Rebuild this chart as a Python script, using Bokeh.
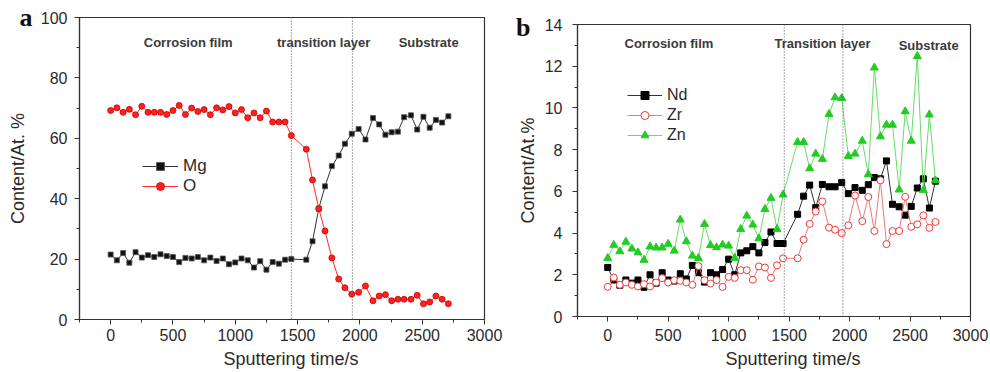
from bokeh.plotting import figure
from bokeh.models import (Span, Label, Legend, LegendItem, FixedTicker, Range1d, Spacer,
                          LinearAxis, Title)
from bokeh.layouts import row, column
from bokeh.embed import file_html
from bokeh.resources import INLINE

# ---------------- data ----------------
time_a = [0, 50, 100, 150, 200, 250, 300, 350, 400, 450, 500, 550, 600, 650, 700,
          750, 800, 850, 900, 950, 1000, 1050, 1100, 1150, 1200, 1250, 1300, 1350, 1400, 1450,
          1570, 1620, 1670, 1720, 1775, 1830, 1880, 1935, 1990, 2045, 2105, 2155, 2205,
          2255, 2305, 2355, 2410, 2460, 2510, 2560, 2610, 2660, 2710]
mg = [21.5, 19.6, 22.0, 18.8, 22.3, 20.5, 21.3, 20.7, 21.6, 21.0, 20.7, 19.0, 20.4, 20.2, 20.7,
      19.6, 20.5, 19.4, 20.2, 18.3, 18.9, 20.2, 19.6, 17.2, 19.3, 16.5, 19.0, 18.5, 19.8, 20.0,
      19.8, 25.9, 36.7, 44.1, 50.8, 54.3, 58.2, 61.5, 63.1, 59.6, 66.7, 64.6, 61.2,
      62.0, 62.2, 67.0, 67.6, 62.9, 67.1, 63.5, 66.1, 65.2, 67.3]
oxygen = [69.2, 70.1, 68.6, 69.6, 67.8, 70.6, 68.6, 68.6, 68.6, 67.9, 69.2, 70.9, 67.9, 70.0, 68.9,
          69.5, 67.8, 70.1, 69.4, 70.5, 68.4, 69.5, 66.8, 68.4, 66.8, 69.0, 65.4, 65.4, 65.4, 60.9,
          56.4, 46.2, 36.7, 29.3, 20.4, 13.4, 10.5, 8.4, 9.0, 11.1, 6.2, 7.8, 8.2,
          6.2, 6.7, 6.7, 6.7, 8.0, 5.2, 5.8, 7.8, 6.7, 5.2]

time_b = [0, 50, 100, 150, 200, 250, 300, 350, 400, 450, 500, 550, 600, 650, 700,
          750, 800, 850, 900, 950, 1000, 1050, 1100, 1150, 1200, 1250, 1300, 1350, 1400, 1450,
          1570, 1620, 1670, 1720, 1775, 1830, 1880, 1935, 1990, 2045, 2105, 2155, 2205,
          2255, 2305, 2355, 2410, 2460, 2510, 2560, 2610, 2660, 2710]
nd = [2.35, 1.75, 1.5, 1.75, 1.6, 1.75, 1.4, 2.0, 1.6, 2.1, 1.75, 1.7, 2.05, 1.8, 2.45,
      2.1, 1.65, 2.1, 2.0, 2.25, 2.75, 2.0, 3.05, 3.15, 3.35, 3.05, 3.55, 4.05, 3.5, 3.5,
      4.9, 5.77, 6.3, 5.22, 6.33, 6.22, 6.22, 6.42, 5.89, 6.18, 6.05, 6.32, 6.66,
      6.6, 7.46, 5.38, 5.26, 4.86, 5.28, 6.16, 6.6, 5.2, 6.49]
zr = [1.42, 1.87, 1.52, 1.63, 1.52, 1.44, 1.55, 1.44, 1.63, 1.84, 1.63, 1.74, 1.71, 1.63, 1.52,
      2.42, 1.74, 1.58, 1.75, 1.42, 1.9, 1.85, 2.22, 2.22, 1.76, 2.4, 2.35, 1.85, 2.45, 2.79,
      2.79, 3.68, 4.44, 5.03, 5.52, 4.26, 4.16, 4.0, 4.37, 5.8, 4.57, 5.73, 4.1,
      6.53, 3.47, 4.1, 4.1, 5.74, 4.3, 4.42, 4.85, 4.25, 4.53]
zn = [2.8, 3.43, 3.12, 3.58, 3.25, 3.07, 2.71, 3.35, 3.3, 3.3, 3.48, 3.15, 4.64, 3.6, 2.91,
      2.8, 4.43, 3.42, 3.31, 3.44, 3.39, 2.8, 4.19, 4.83, 4.4, 3.74, 5.15, 5.68, 4.19, 5.84,
      8.36, 8.36, 7.1, 7.8, 7.55, 9.7, 10.5, 10.47, 7.69, 7.8, 8.42, 6.81, 11.93,
      8.63, 9.19, 9.19, 6.08, 9.83, 8.42, 12.48, 6.05, 9.68, 6.52]

x_ticks = [0, 500, 1000, 1500, 2000, 2500, 3000]
x_minor = [-250, 250, 750, 1250, 1750, 2250, 2750]
y_ticks_a = [0, 20, 40, 60, 80, 100]
y_minor_a = [10, 30, 50, 70, 90]
y_ticks_b = [0, 2, 4, 6, 8, 10, 12, 14]
y_minor_b = [1, 3, 5, 7, 9, 11, 13]
boundaries_a = [1450, 1940]
boundaries_b = [1460, 1945]
regions_a = ["Corrosion film", "transition layer", "Substrate"]
regions_b = ["Corrosion film", "Transition layer", "Substrate"]

FONT = "Liberation Sans"
TXT = "#2a2a2a"


def style_axes(p, yt, ym, tick_standoff_x, tick_standoff_y):
    p.grid.visible = False
    p.outline_line_color = "#333333"
    p.outline_line_width = 1.2
    p.xaxis.ticker = FixedTicker(ticks=x_ticks, minor_ticks=x_minor)
    p.yaxis.ticker = FixedTicker(ticks=yt, minor_ticks=ym)
    for ax in (p.xaxis[0], p.yaxis[0]):
        ax.axis_line_color = "#333333"
        ax.axis_line_width = 1.2
        ax.major_tick_line_color = "#333333"
        ax.minor_tick_line_color = "#333333"
        ax.major_tick_in = 0
        ax.major_tick_out = 5
        ax.minor_tick_in = 0
        ax.minor_tick_out = 3
        ax.major_label_text_font = FONT
        ax.major_label_text_font_size = "16px"
        ax.major_label_text_color = TXT
    p.xaxis.major_label_standoff = tick_standoff_x
    p.yaxis.major_label_standoff = tick_standoff_y


def x_title(p, text, offset, standoff):
    t = Title(text=text, align="left", offset=offset, standoff=standoff,
              text_font=FONT, text_font_size="18px", text_font_style="normal",
              text_color=TXT)
    p.add_layout(t, "below")


def letter_axis(p, letter, tick_value, y_title, letter_standoff, title_standoff):
    # outer left axis: carries the panel letter (as its only tick label) and the y title
    ax = LinearAxis(ticker=FixedTicker(ticks=[tick_value], minor_ticks=[]),
                    major_label_overrides={tick_value: letter},
                    axis_label=y_title)
    ax.axis_line_color = None
    ax.major_tick_line_color = None
    ax.minor_tick_line_color = None
    ax.major_tick_in = 0
    ax.major_tick_out = 0
    ax.minor_tick_in = 0
    ax.minor_tick_out = 0
    ax.major_label_standoff = letter_standoff
    ax.major_label_text_font = "Liberation Serif"
    ax.major_label_text_font_size = "26px"
    ax.major_label_text_font_style = "bold"
    ax.major_label_text_color = "#111111"
    ax.axis_label_text_font = FONT
    ax.axis_label_text_font_size = "18px"
    ax.axis_label_text_font_style = "normal"
    ax.axis_label_text_color = TXT
    ax.axis_label_standoff = title_standoff
    p.add_layout(ax, "left")


# ---------------- panel a ----------------
pa = figure(width=510, height=372, output_backend="svg", toolbar_location=None,
            x_range=Range1d(-250, 3000), y_range=Range1d(0, 100),
            min_border_left=79, min_border_right=26, min_border_top=17, min_border_bottom=53)
style_axes(pa, y_ticks_a, y_minor_a, 4, 7)
letter_axis(pa, "a", 100, "Content/At. %", 5, -11)
x_title(pa, "Sputtering time/s", 144, 6)

for b in boundaries_a:
    pa.add_layout(Span(location=b, dimension="height", line_color="#555555",
                       line_dash="1 2", line_width=1))

mg_line = pa.line(time_a, mg, line_color="#333333", line_width=1)
mg_pts = pa.scatter(time_a, mg, marker="square", size=5, fill_color="#111111",
                    line_color="#555555", line_width=0.8)
o_line = pa.line(time_a, oxygen, line_color="#ff2a2a", line_width=1)
o_pts = pa.scatter(time_a, oxygen, marker="circle", size=6, fill_color="#ff2020",
                   line_color="#c80000", line_width=0.8)

leg_a = Legend(items=[LegendItem(label="Mg", renderers=[mg_line, mg_pts]),
                      LegendItem(label="O", renderers=[o_line, o_pts])],
               location=(63, 123), padding=0, margin=0, spacing=0,
               glyph_width=36, glyph_height=20, label_height=20, label_standoff=5,
               label_text_font=FONT, label_text_font_size="17px", label_text_color=TXT,
               border_line_alpha=0, background_fill_alpha=0)
pa.add_layout(leg_a)

for name, xpos in zip(regions_a, [622, 1709, 2552]):
    pa.add_layout(Label(x=xpos, y=91.7, text=name, text_align="center", text_baseline="middle",
                        text_font=FONT, text_font_size="13px", text_font_style="bold",
                        text_color="#3a3a3a"))

# ---------------- panel b ----------------
pb = figure(width=480, height=365, output_backend="svg", toolbar_location=None,
            x_range=Range1d(-250, 3000), y_range=Range1d(0, 14),
            min_border_left=67, min_border_right=20, min_border_top=17, min_border_bottom=56)
style_axes(pb, y_ticks_b, y_minor_b, 7, 10)
letter_axis(pb, "b", 13.85, "Content/At.%", 11, -25)
x_title(pb, "Sputtering time/s", 148, 6)

for b in boundaries_b:
    pb.add_layout(Span(location=b, dimension="height", line_color="#555555",
                       line_dash="1 2", line_width=1))

nd_line = pb.line(time_b, nd, line_color="#333333", line_width=1)
nd_pts = pb.scatter(time_b, nd, marker="square", size=6, fill_color="#000000",
                    line_color="#000000")
zr_line = pb.line(time_b, zr, line_color="#f07878", line_width=1)
zr_pts = pb.scatter(time_b, zr, marker="circle", size=7, fill_color="white",
                    line_color="#ee3b3b", line_width=1)
zn_line = pb.line(time_b, zn, line_color="#66dd66", line_width=1)
zn_pts = pb.scatter(time_b, zn, marker="triangle", size=8, fill_color="#22cc22",
                    line_color="#22cc22")

leg_b = Legend(items=[LegendItem(label="Nd", renderers=[nd_line, nd_pts]),
                      LegendItem(label="Zr", renderers=[zr_line, zr_pts]),
                      LegendItem(label="Zn", renderers=[zn_line, zn_pts])],
               location=(50, 171), padding=0, margin=0, spacing=0,
               glyph_width=35, glyph_height=20, label_height=20, label_standoff=5,
               label_text_font=FONT, label_text_font_size="16px", label_text_color=TXT,
               border_line_alpha=0, background_fill_alpha=0)
pb.add_layout(leg_b)

for name, xpos, ypos in zip(regions_b, [506, 1776, 2654], [13.07, 13.07, 12.99]):
    pb.add_layout(Label(x=xpos, y=ypos, text=name, text_align="center", text_baseline="middle",
                        text_font=FONT, text_font_size="13px", text_font_style="bold",
                        text_color="#3a3a3a"))

layout = row(pa, column(Spacer(width=480, height=7), pb))
open("out.html", "w").write(file_html(layout, INLINE))
